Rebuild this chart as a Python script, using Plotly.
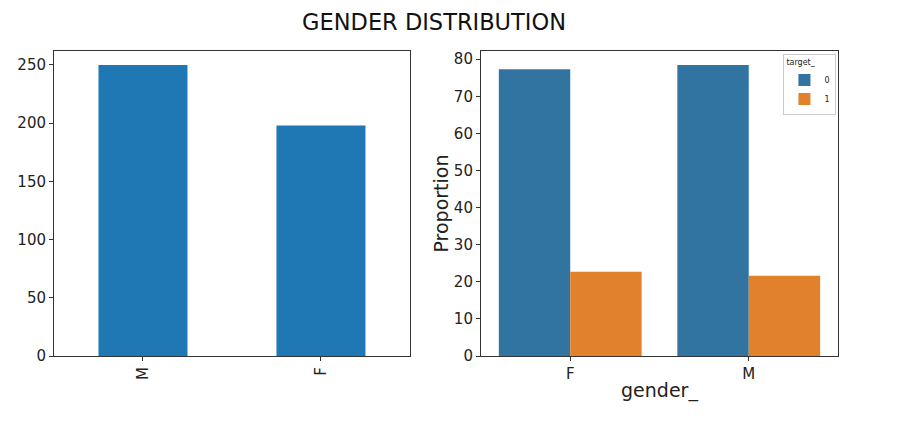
import plotly.graph_objects as go

# left panel: counts per gender
count_cats = ["M", "F"]
count_vals = [250, 198]

# right panel: proportion of target per gender
prop_cats = ["F", "M"]
prop_target0 = [77.3, 78.4]
prop_target1 = [22.7, 21.6]
target_names = ["0", "1"]

font_family = "DejaVu Sans"

fig = go.Figure()

fig.add_trace(go.Bar(x=count_cats, y=count_vals, width=0.5, offset=-0.25,
                     marker_color="#1f77b4", marker_line_width=0,
                     showlegend=False, xaxis="x", yaxis="y"))

fig.add_trace(go.Bar(x=prop_cats, y=prop_target0, name=target_names[0],
                     width=0.4, offset=-0.4, marker_color="#3274a1",
                     marker_line_width=0, xaxis="x2", yaxis="y2"))
fig.add_trace(go.Bar(x=prop_cats, y=prop_target1, name=target_names[1],
                     width=0.4, offset=0, marker_color="#e1812c",
                     marker_line_width=0, xaxis="x2", yaxis="y2"))

axis_style = dict(showline=True, mirror=True, linecolor="#333333", linewidth=1,
                  ticks="outside", ticklen=4, tickcolor="#333333",
                  showgrid=False, zeroline=False, automargin=False,
                  tickfont=dict(size=15, color="#222222", family=font_family))

# the page body adds an 8px offset, so margins are shifted to compensate
fig.update_layout(
    width=909, height=422,
    margin=dict(l=46, r=79, t=43, b=74, autoexpand=False),
    paper_bgcolor="white", plot_bgcolor="white",
    barmode="overlay",
    font=dict(family=font_family, color="#222222"),
    title=dict(text="GENDER DISTRIBUTION", x=0.4687, xanchor="center",
               y=0.9668, yanchor="middle",
               font=dict(size=22.5, family=font_family, color="#111111")),
    xaxis=dict(domain=[0, 0.454], anchor="y", type="category",
               range=[-0.5, 1.5], tickangle=-90, **axis_style),
    yaxis=dict(domain=[0, 1], anchor="x", range=[0, 262],
               tickvals=[0, 50, 100, 150, 200, 250], **axis_style),
    xaxis2=dict(domain=[0.5446, 1], anchor="y2", type="category",
                range=[-0.5, 1.5],
                title=dict(text="gender_", font=dict(size=19), standoff=1),
                **axis_style),
    yaxis2=dict(domain=[0, 1], anchor="x2", range=[0, 82.2],
                tickvals=list(range(0, 81, 10)),
                title=dict(text="Proportion", font=dict(size=19), standoff=0),
                **axis_style),
    legend=dict(title=dict(text="target_", font=dict(size=8)),
                font=dict(size=8), x=0.998, xanchor="right",
                y=0.99, yanchor="top", bgcolor="white",
                bordercolor="#cccccc", borderwidth=1,
                tracegroupgap=0, itemwidth=30),
)

fig.write_html("out.html")
